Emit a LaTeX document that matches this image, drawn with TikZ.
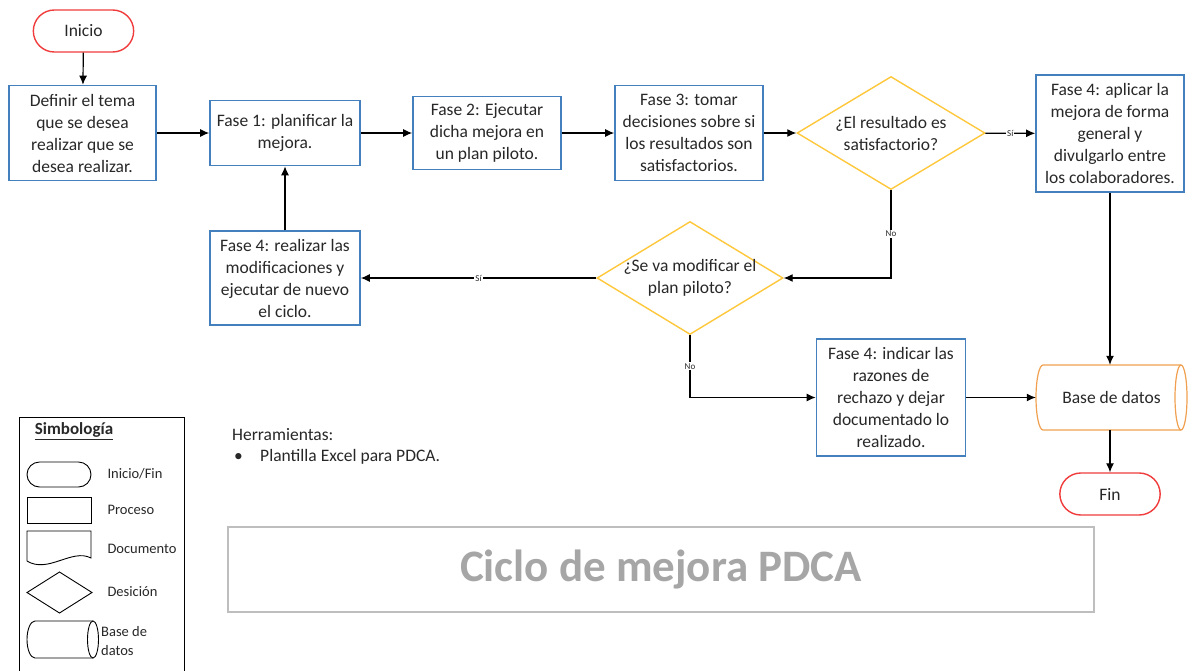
\documentclass[tikz,border=0pt]{standalone}
\usepackage{fontspec}
\setmainfont{Carlito}
\usetikzlibrary{shapes.geometric,shapes.misc,arrows.meta}
\definecolor{procblue}{RGB}{68,128,190}
\definecolor{decyel}{RGB}{255,200,60}
\definecolor{termred}{RGB}{240,60,60}
\definecolor{dborange}{RGB}{240,160,80}
\definecolor{txt}{RGB}{40,40,40}
\definecolor{ttlgray}{RGB}{166,166,166}
\definecolor{ttlbox}{RGB}{190,190,190}
\tikzset{
  every node/.style={font=\fontsize{17.5}{22}\selectfont, text=txt, align=center},
  proc/.style={draw=procblue, line width=1.6pt, fill=white, inner sep=2pt},
  term/.style={rounded rectangle, draw=termred, line width=1.4pt, fill=white, minimum width=107, minimum height=42},
  decis/.style={diamond, draw=decyel, line width=1.4pt, fill=white, inner sep=0pt, minimum width=188, minimum height=113},
  dbline/.style={draw=dborange, line width=1.2pt},
  conn/.style={draw=black, line width=1.2pt, -{Latex[length=9pt,width=8pt]}},
  lbl/.style={font=\fontsize{9}{10}\selectfont, fill=white, inner sep=1pt, text=txt},
  legsym/.style={draw=black, line width=0.9pt},
  legtxt/.style={font=\fontsize{14.5}{19}\selectfont, anchor=west, align=left}
}
\begin{document}
\begin{tikzpicture}[x=1pt,y=-1pt]
\useasboundingbox (0,0) rectangle (1194,670);
\fill[white] (0,0) rectangle (1194,670);

% database shape (drawn directly)
\draw[dbline, fill=white] (1181,365) -- (1043,365) arc[start angle=270, end angle=90, x radius=7, y radius=32.5] -- (1181,430);
\draw[dbline] (1181,397.5) ellipse[x radius=6, y radius=32.5];

% main nodes
\node[term] (inicio) at (83.5,31) {Inicio};
\node[proc, minimum width=147, minimum height=95] (def) at (82.5,133) {Definir el tema\\que se desea\\realizar que se\\desea realizar.};
\node[proc, minimum width=150, minimum height=65] (f1) at (285,133) {Fase 1: planificar la\\mejora.};
\node[proc, minimum width=148, minimum height=73] (f2) at (487,133) {Fase 2: Ejecutar\\dicha mejora en\\un plan piloto.};
\node[proc, minimum width=148, minimum height=95] (f3) at (689,133) {Fase 3: tomar\\decisiones sobre si\\los resultados son\\satisfactorios.};
\node[decis, label={center:¿El resultado es\\satisfactorio?}] (d1) at (891,133) {};
\node[proc, minimum width=148, minimum height=117] (f4a) at (1110,133.5) {Fase 4: aplicar la\\mejora de forma\\general y\\divulgarlo entre\\los colaboradores.};
\node[proc, minimum width=150, minimum height=94] (f4r) at (285,278) {Fase 4: realizar las\\modificaciones y\\ejecutar de nuevo\\el ciclo.};
\node[decis, minimum width=186, label={center:¿Se va modificar el\\plan piloto?}] (d2) at (690,278) {};
\node[proc, minimum width=149, minimum height=117] (f4i) at (891,397.5) {Fase 4: indicar las\\razones de\\rechazo y dejar\\documentado lo\\realizado.};
\node[minimum width=151, minimum height=65, inner sep=0pt] (bd) at (1111.5,397.5) {Base de datos};
\node[term] (fin) at (1110,494) {Fin};

% connectors
\draw[conn] (inicio) -- (def);
\draw[conn] (def) -- (f1);
\draw[conn] (f1) -- (f2);
\draw[conn] (f2) -- (f3);
\draw[conn] (f3) -- (d1);
\draw[conn] (d1) -- node[lbl] {Sí} (f4a);
\draw[conn] (d1.south) |- node[lbl, pos=0.25] {No} (d2.east);
\draw[conn] (d2.west) -- node[lbl] {Sí} (f4r.east);
\draw[conn] (f4r) -- (f1);
\draw[conn] (d2.south) |- node[lbl, pos=0.25] {No} (f4i.west);
\draw[conn] (f4i) -- (bd);
\draw[conn] (f4a.south) -- (f4a.south |- bd.north);
\draw[conn] (bd.south -| fin.north) -- (fin.north);

% legend
\draw[line width=1pt] (19,672) -- (19,417) -- (184,417) -- (184,672);
\node[font=\fontsize{17}{20}\selectfont\bfseries] (legt) at (74,431) {\underline{Simbología}};
\draw[legsym, rounded corners=12.5pt] (27,462) rectangle (91,487);
\node[legtxt] (l1) at (104,474) {Inicio/Fin};
\draw[legsym] (27,497) rectangle (91,523);
\node[legtxt] (l2) at (104,510) {Proceso};
\draw[legsym] (27,561) -- (27,531) -- (91,531) -- (91,558) .. controls (72,548) and (48,574) .. (27,561);
\node[legtxt] (l3) at (104,549) {Documento};
\draw[legsym] (27,592.5) -- (59.5,572) -- (92,592.5) -- (59.5,613) -- cycle;
\node[legtxt] (l4) at (104,592) {Desición};
\draw[legsym] (93,621) -- (35,621) arc[start angle=270, end angle=90, x radius=8, y radius=18.5] -- (93,658);
\draw[legsym] (93,639.5) ellipse[x radius=5.5, y radius=18.5];
\node[legtxt, inner sep=0pt] (l5) at (101,641.5) {Base de\\datos};

% tools
\node[anchor=west, inner sep=0pt] (herr) at (232,435) {Herramientas:};
\node[anchor=west, inner sep=0pt] (bul) at (234,457) {•};
\node[anchor=west, inner sep=0pt] (herr1) at (260,457) {Plantilla Excel para PDCA.};

% title
\node[draw=ttlbox, line width=1.5pt, minimum width=866, minimum height=85, font=\fontsize{45}{50}\selectfont\bfseries, text=ttlgray] (title) at (661,569.5) {Ciclo de mejora PDCA};
\end{tikzpicture}
\end{document}
